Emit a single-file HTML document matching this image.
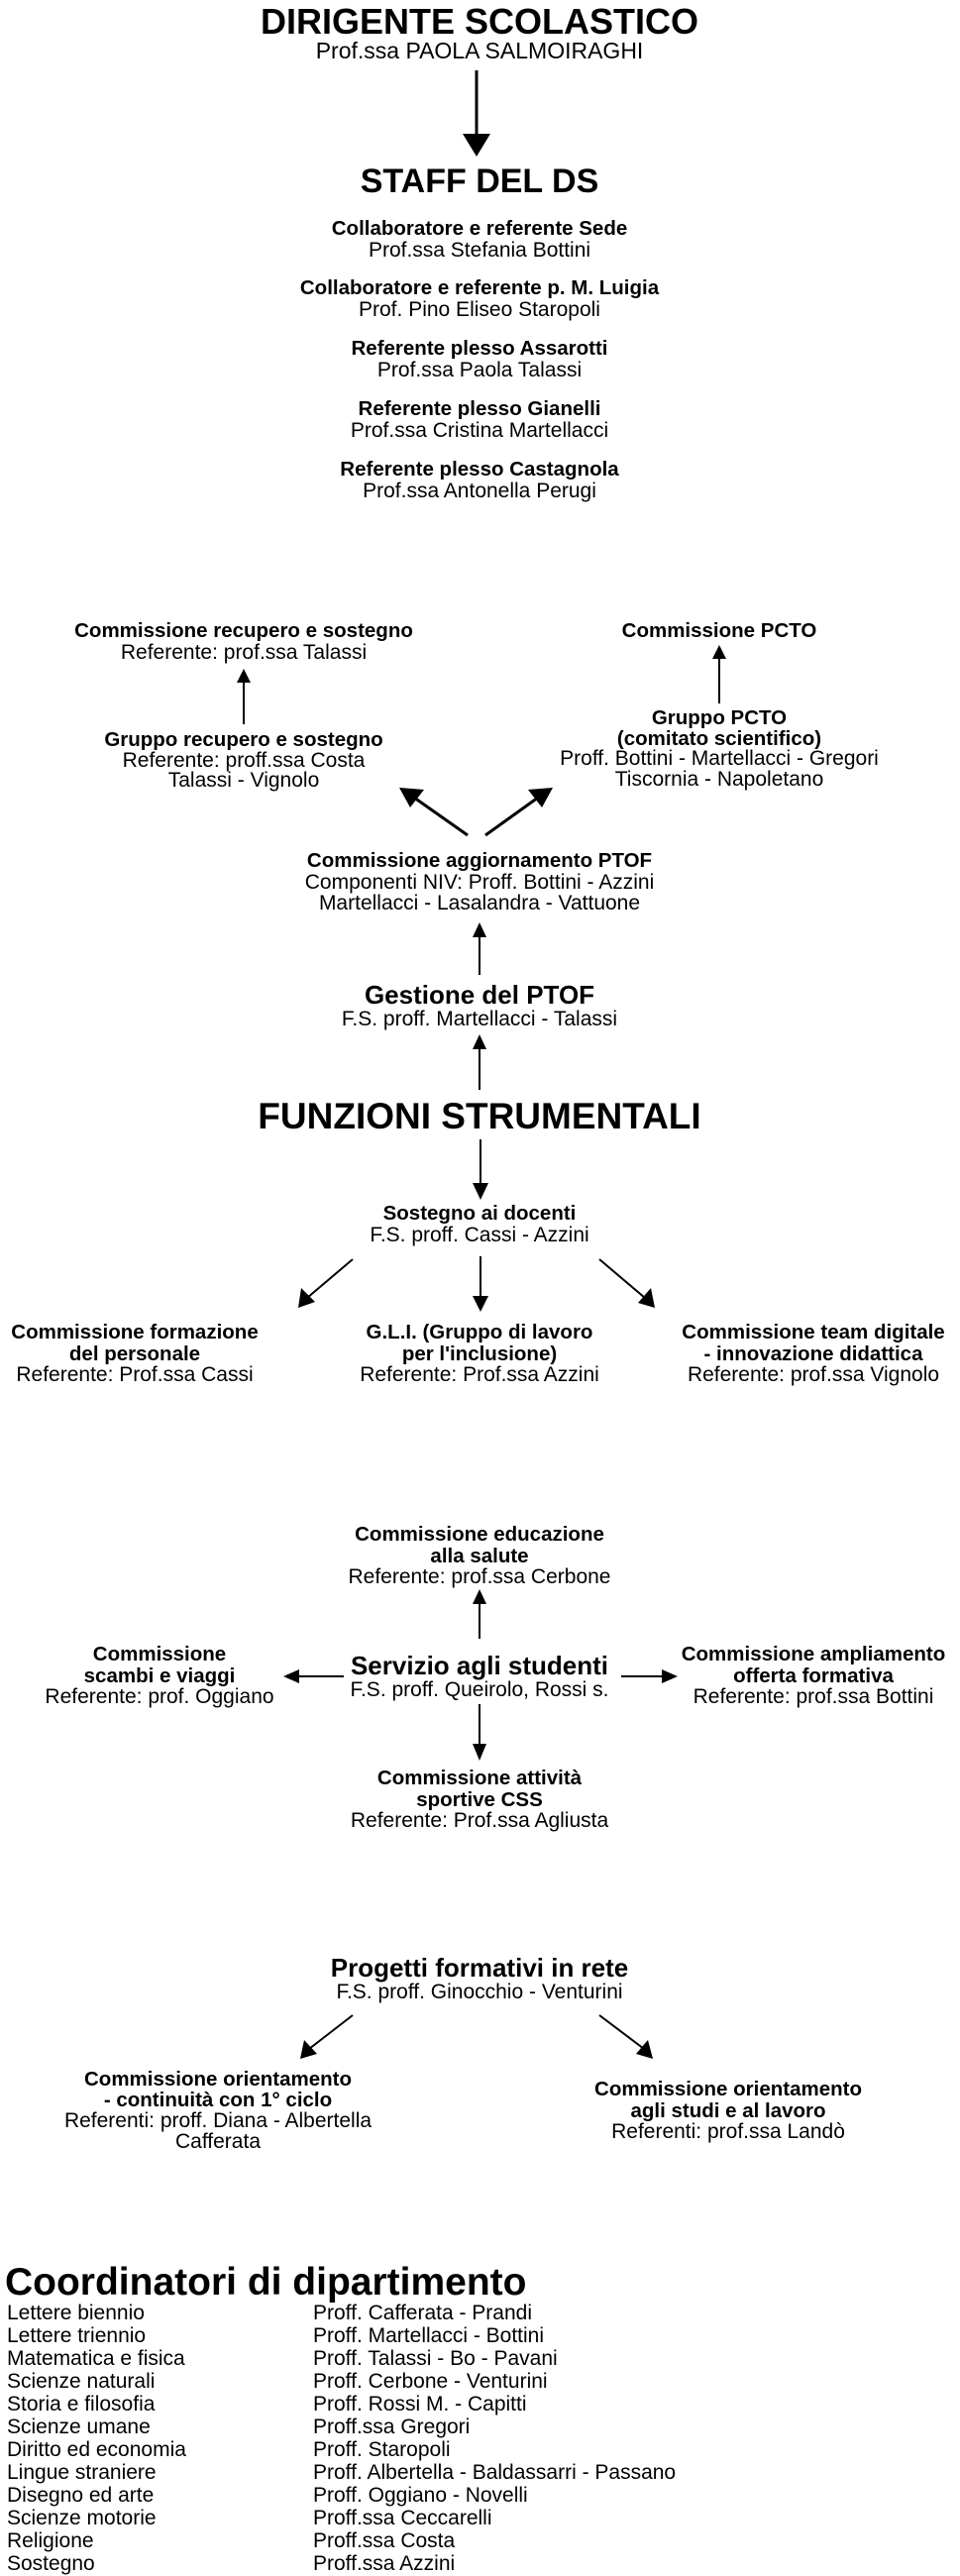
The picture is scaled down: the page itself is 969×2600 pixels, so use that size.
<!DOCTYPE html>
<html><head><meta charset="utf-8"><style>
html,body{margin:0;padding:0;background:#fff;}
body{width:969px;height:2600px;position:relative;overflow:hidden;font-family:"Liberation Sans",sans-serif;color:#000;}
.c{position:absolute;transform:translateX(-50%);white-space:nowrap;text-align:center;font-size:21px;line-height:21.5px;}
.c b{font-size:20.5px;}
.h1{font-weight:bold;font-size:36px;line-height:36px;}
.h2{font-weight:bold;font-size:26px;line-height:24px;}
svg{position:absolute;left:0;top:0;}
.row{position:absolute;left:7px;font-size:21px;line-height:23px;white-space:nowrap;}
.row span{position:absolute;left:309px;}
</style></head><body>
<svg width="969" height="2600" viewBox="0 0 969 2600">
<g stroke="#000" fill="#000">
<line x1="481" y1="71" x2="481" y2="137" stroke-width="3"/>
<path d="M467,135 L495,135 L481,158 Z" stroke="none"/>
<g stroke-width="2">
<line x1="246" y1="731" x2="246" y2="687"/><path d="M239,689 L253,689 L246,675 Z" stroke="none"/>
<line x1="726" y1="710" x2="726" y2="663"/><path d="M719,665 L733,665 L726,651 Z" stroke="none"/>
<line x1="484" y1="984" x2="484" y2="945"/><path d="M477,946 L491,946 L484,931 Z" stroke="none"/>
<line x1="484" y1="1100" x2="484" y2="1058"/><path d="M477,1059 L491,1059 L484,1044 Z" stroke="none"/>
<line x1="485" y1="1150" x2="485" y2="1196"/><path d="M477,1194 L493,1194 L485,1211 Z" stroke="none"/>
<line x1="356" y1="1271" x2="310" y2="1310"/><path d="M301,1320 L304,1300 L318,1314 Z" stroke="none"/>
<line x1="485" y1="1268" x2="485" y2="1310"/><path d="M477,1308 L493,1308 L485,1324 Z" stroke="none"/>
<line x1="605" y1="1271" x2="651" y2="1310"/><path d="M661,1320 L644,1315 L657,1300 Z" stroke="none"/>
<line x1="484" y1="1720" x2="484" y2="1762"/><path d="M477,1760 L491,1760 L484,1777 Z" stroke="none"/>
<line x1="484" y1="1654" x2="484" y2="1618"/><path d="M477,1619 L491,1619 L484,1604 Z" stroke="none"/>
<line x1="347" y1="1692" x2="300" y2="1692"/><path d="M302,1685 L302,1699 L286,1692 Z" stroke="none"/>
<line x1="627" y1="1692" x2="670" y2="1692"/><path d="M668,1685 L668,1699 L684,1692 Z" stroke="none"/>
<line x1="356" y1="2034" x2="312" y2="2068"/><path d="M303,2078 L307,2059 L320,2073 Z" stroke="none"/>
<line x1="605" y1="2034" x2="650" y2="2068"/><path d="M659,2078 L642,2073 L654,2059 Z" stroke="none"/>
</g>
<g stroke-width="3">
<line x1="472" y1="843" x2="418" y2="805"/><path d="M403,795 L428,797 L414,815 Z" stroke="none"/>
<line x1="490" y1="843" x2="543" y2="805"/><path d="M558,795 L547,815 L533,797 Z" stroke="none"/>
</g>
</g>
</svg>

<div class="c h1" style="left:484px;top:4px;">DIRIGENTE SCOLASTICO</div>
<div class="c" style="left:484px;top:41px;font-size:23px;">Prof.ssa PAOLA SALMOIRAGHI</div>

<div class="c h1" style="left:484px;top:165px;font-size:34px;">STAFF DEL DS</div>
<div class="c" style="left:484px;top:220px;"><b>Collaboratore e referente Sede</b><br>Prof.ssa Stefania Bottini</div>
<div class="c" style="left:484px;top:280px;"><b>Collaboratore e referente p. M. Luigia</b><br>Prof. Pino Eliseo Staropoli</div>
<div class="c" style="left:484px;top:341px;"><b>Referente plesso Assarotti</b><br>Prof.ssa Paola Talassi</div>
<div class="c" style="left:484px;top:402px;"><b>Referente plesso Gianelli</b><br>Prof.ssa Cristina Martellacci</div>
<div class="c" style="left:484px;top:463px;"><b>Referente plesso Castagnola</b><br>Prof.ssa Antonella Perugi</div>

<div class="c" style="left:246px;top:626px;"><b>Commissione recupero e sostegno</b><br>Referente: prof.ssa Talassi</div>
<div class="c" style="left:726px;top:626px;"><b>Commissione PCTO</b></div>
<div class="c" style="left:246px;top:737px;line-height:20.5px;"><b>Gruppo recupero e sostegno</b><br>Referente: proff.ssa Costa<br>Talassi - Vignolo</div>
<div class="c" style="left:726px;top:715px;line-height:20.7px;"><b>Gruppo PCTO<br>(comitato scientifico)</b><br>Proff. Bottini - Martellacci - Gregori<br>Tiscornia - Napoletano</div>
<div class="c" style="left:484px;top:858px;line-height:21.5px;"><b>Commissione aggiornamento PTOF</b><br>Componenti NIV: Proff. Bottini - Azzini<br>Martellacci - Lasalandra - Vattuone</div>
<div class="c" style="left:484px;top:992px;"><span class="h2">Gestione del PTOF</span><br>F.S. proff. Martellacci - Talassi</div>

<div class="c h1" style="left:484px;top:1109px;font-size:37px;">FUNZIONI STRUMENTALI</div>
<div class="c" style="left:484px;top:1214px;"><b>Sostegno ai docenti</b><br>F.S. proff. Cassi - Azzini</div>
<div class="c" style="left:136px;top:1334px;"><b>Commissione formazione<br>del personale</b><br>Referente: Prof.ssa Cassi</div>
<div class="c" style="left:484px;top:1334px;"><b>G.L.I. (Gruppo di lavoro<br>per l'inclusione)</b><br>Referente: Prof.ssa Azzini</div>
<div class="c" style="left:821px;top:1334px;"><b>Commissione team digitale<br>- innovazione didattica</b><br>Referente: prof.ssa Vignolo</div>

<div class="c" style="left:484px;top:1538px;"><b>Commissione educazione<br>alla salute</b><br>Referente: prof.ssa Cerbone</div>
<div class="c" style="left:484px;top:1669px;"><span class="h2">Servizio agli studenti</span><br>F.S. proff. Queirolo, Rossi s.</div>
<div class="c" style="left:161px;top:1659px;"><b>Commissione<br>scambi e viaggi</b><br>Referente: prof. Oggiano</div>
<div class="c" style="left:821px;top:1659px;"><b>Commissione ampliamento<br>offerta formativa</b><br>Referente: prof.ssa Bottini</div>
<div class="c" style="left:484px;top:1784px;"><b>Commissione attività<br>sportive CSS</b><br>Referente: Prof.ssa Agliusta</div>

<div class="c" style="left:484px;top:1974px;"><span class="h2">Progetti formativi in rete</span><br>F.S. proff. Ginocchio - Venturini</div>
<div class="c" style="left:220px;top:2088px;line-height:21px;"><b>Commissione orientamento<br>- continuità con 1° ciclo</b><br>Referenti: proff. Diana - Albertella<br>Cafferata</div>
<div class="c" style="left:735px;top:2098px;"><b>Commissione orientamento<br>agli studi e al lavoro</b><br>Referenti: prof.ssa Landò</div>

<div style="position:absolute;left:5px;top:2283px;font-weight:bold;font-size:39px;line-height:42px;white-space:nowrap;">Coordinatori di dipartimento</div>
<div class="row" style="top:2323px;">Lettere biennio<span>Proff. Cafferata - Prandi</span></div>
<div class="row" style="top:2346px;">Lettere triennio<span>Proff. Martellacci - Bottini</span></div>
<div class="row" style="top:2369px;">Matematica e fisica<span>Proff. Talassi - Bo - Pavani</span></div>
<div class="row" style="top:2392px;">Scienze naturali<span>Proff. Cerbone - Venturini</span></div>
<div class="row" style="top:2415px;">Storia e filosofia<span>Proff. Rossi M. - Capitti</span></div>
<div class="row" style="top:2438px;">Scienze umane<span>Proff.ssa Gregori</span></div>
<div class="row" style="top:2461px;">Diritto ed economia<span>Proff. Staropoli</span></div>
<div class="row" style="top:2484px;">Lingue straniere<span>Proff. Albertella - Baldassarri - Passano</span></div>
<div class="row" style="top:2507px;">Disegno ed arte<span>Proff. Oggiano - Novelli</span></div>
<div class="row" style="top:2530px;">Scienze motorie<span>Proff.ssa Ceccarelli</span></div>
<div class="row" style="top:2553px;">Religione<span>Proff.ssa Costa</span></div>
<div class="row" style="top:2576px;">Sostegno<span>Proff.ssa Azzini</span></div>
</body></html>
